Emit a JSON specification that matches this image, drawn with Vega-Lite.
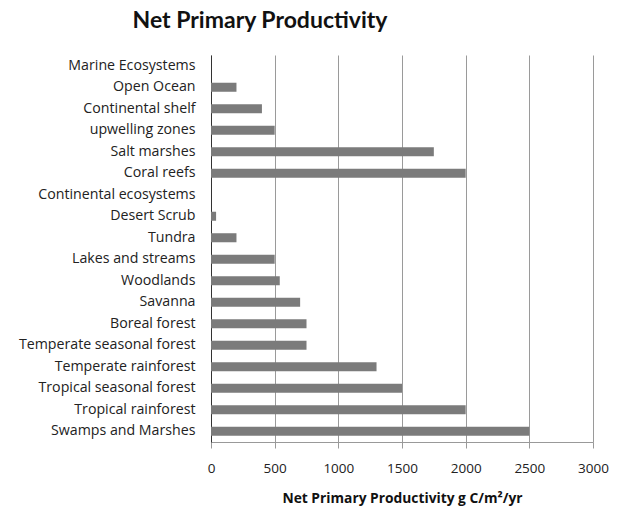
{
  "$schema": "https://vega.github.io/schema/vega-lite/v6.json",
  "width": 382,
  "height": 387,
  "autosize": "none",
  "padding": {"left": 211, "top": 55, "right": 33, "bottom": 70},
  "background": "white",
  "title": {
    "text": "Net Primary Productivity",
    "font": "Lato",
    "fontSize": 23,
    "fontWeight": "bold",
    "color": "#111111",
    "anchor": "middle",
    "dx": -142,
    "offset": 22
  },
  "data": {
    "values": [
      {"ecosystem": "Marine Ecosystems", "npp": null},
      {"ecosystem": "Open Ocean", "npp": 200},
      {"ecosystem": "Continental shelf", "npp": 400},
      {"ecosystem": "upwelling zones", "npp": 500},
      {"ecosystem": "Salt marshes", "npp": 1750},
      {"ecosystem": "Coral reefs", "npp": 2000},
      {"ecosystem": "Continental ecosystems", "npp": null},
      {"ecosystem": "Desert Scrub", "npp": 40},
      {"ecosystem": "Tundra", "npp": 200},
      {"ecosystem": "Lakes and streams", "npp": 500},
      {"ecosystem": "Woodlands", "npp": 540},
      {"ecosystem": "Savanna", "npp": 700},
      {"ecosystem": "Boreal forest", "npp": 750},
      {"ecosystem": "Temperate seasonal forest", "npp": 750},
      {"ecosystem": "Temperate rainforest", "npp": 1300},
      {"ecosystem": "Tropical seasonal forest", "npp": 1500},
      {"ecosystem": "Tropical rainforest", "npp": 2000},
      {"ecosystem": "Swamps and Marshes", "npp": 2500}
    ]
  },
  "mark": {"type": "bar", "color": "#7b7b7b"},
  "encoding": {
    "y": {
      "field": "ecosystem",
      "type": "nominal",
      "sort": null,
      "scale": {
        "domain": ["Marine Ecosystems", "Open Ocean", "Continental shelf", "upwelling zones", "Salt marshes", "Coral reefs", "Continental ecosystems", "Desert Scrub", "Tundra", "Lakes and streams", "Woodlands", "Savanna", "Boreal forest", "Temperate seasonal forest", "Temperate rainforest", "Tropical seasonal forest", "Tropical rainforest", "Swamps and Marshes"],
        "paddingInner": 0.58,
        "paddingOuter": 0.29
      },
      "axis": {
        "title": null,
        "ticks": false,
        "labelPadding": 16,
        "labelLimit": 400,
        "labelFont": "Open Sans",
        "labelFontSize": 14.2,
        "labelColor": "#222222",
        "domainColor": "#333333",
        "domainWidth": 1,
        "grid": false
      }
    },
    "x": {
      "field": "npp",
      "type": "quantitative",
      "scale": {"domain": [0, 3000], "nice": false},
      "axis": {
        "values": [0, 500, 1000, 1500, 2000, 2500, 3000],
        "format": "d",
        "title": "Net Primary Productivity g C/m²/yr",
        "titleFont": "Open Sans",
        "titleFontSize": 13.8,
        "titleFontWeight": "bold",
        "titleColor": "#111111",
        "titlePadding": 17,
        "labelFont": "Open Sans",
        "labelFontSize": 13.5,
        "labelColor": "#222222",
        "labelPadding": 13,
        "labelFlush": false,
        "tickSize": 6,
        "tickColor": "#999999",
        "domainColor": "#999999",
        "gridColor": "#9a9a9a",
        "gridWidth": 1
      }
    }
  },
  "config": {"view": {"stroke": null}}
}
